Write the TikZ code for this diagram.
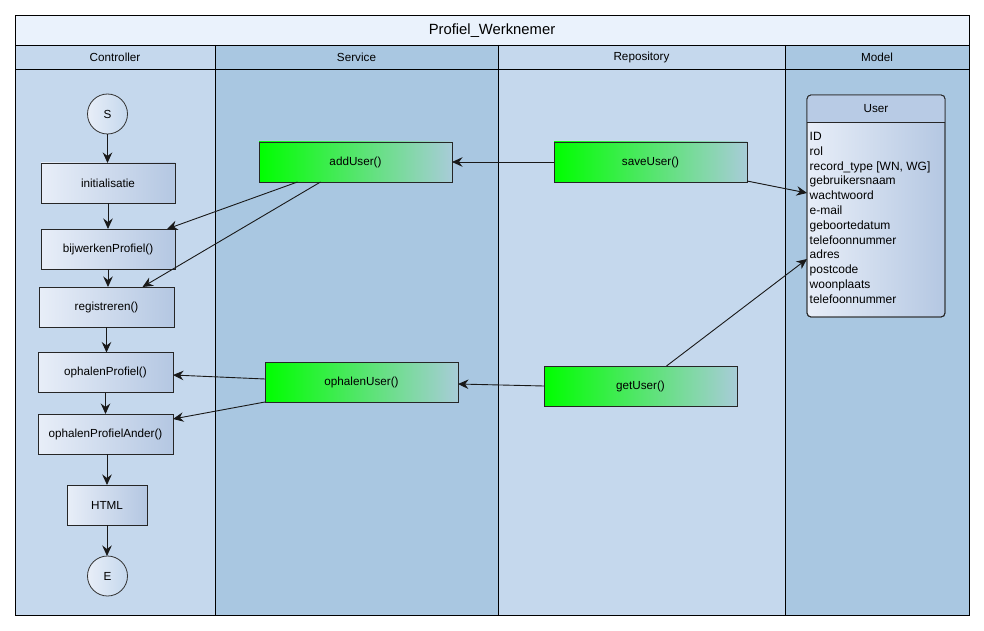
\documentclass[tikz,border=0pt]{standalone}
\usepackage{fontspec}
\setmainfont{Liberation Sans}
\usetikzlibrary{arrows.meta}

\definecolor{titlefill}{RGB}{234,242,252}
\definecolor{lanelight}{RGB}{197,216,237}
\definecolor{lanedark}{RGB}{169,199,225}
\definecolor{boxlight}{RGB}{232,238,248}
\definecolor{boxdark}{RGB}{180,199,226}
\definecolor{greenstart}{RGB}{0,255,0}
\definecolor{greenmid}{RGB}{80,230,115}
\definecolor{greenend}{RGB}{168,204,216}
\definecolor{userhead}{RGB}{184,203,229}

\tikzset{
  lbl/.style={font=\fontsize{11.7}{14}\selectfont},
  ctrlbox/.style={draw=black!85, line width=0.9pt, left color=boxlight, right color=boxdark,
    minimum width=134pt, minimum height=40pt, outer sep=0pt, lbl},
  greenbox/.style={draw=black!85, line width=0.9pt, left color=greenstart, middle color=greenmid,
    right color=greenend, minimum width=193pt, minimum height=40pt, outer sep=0pt, lbl},
  endpoint/.style={circle, draw=black!80, line width=0.8pt, left color=boxlight, right color=lanelight,
    minimum size=40pt, inner sep=0pt, outer sep=0pt, lbl},
  attr/.style={anchor=base west, inner sep=0pt, font=\fontsize{12}{14}\selectfont},
  conn/.style={draw=black!90, line width=0.9pt, -{Stealth[length=10.5pt,width=9.5pt,inset=3.5pt]}},
  lane/.style={draw=black, line width=0.9pt}
}

\begin{document}
\begin{tikzpicture}[x=1pt,y=-1pt]
\useasboundingbox (0,0) rectangle (984,631);
\fill[white] (0,0) rectangle (984,631);

% swimlane backgrounds
\fill[titlefill] (15,15) rectangle (969,45);
\fill[lanelight] (15,45) rectangle (215,615);
\fill[lanedark] (215,45) rectangle (498,615);
\fill[lanelight] (498,45) rectangle (785,615);
\fill[lanedark] (785,45) rectangle (969,615);

% swimlane borders
\draw[lane] (15,15) rectangle (969,615);
\draw[lane] (15,45) -- (969,45);
\draw[lane] (15,69) -- (969,69);
\draw[lane] (215,45) -- (215,615);
\draw[lane] (498,45) -- (498,615);
\draw[lane] (785,45) -- (785,615);

% titles
\node[font=\fontsize{14.8}{17}\selectfont] (title) at (492,30.5) {Profiel\_Werknemer};
\node[lbl] (hctrl) at (115,57.5) {Controller};
\node[lbl] (hsrv) at (356.5,57.5) {Service};
\node[lbl] (hrepo) at (641.5,57.5) {Repository};
\node[lbl] (hmodel) at (877,57.5) {Model};

% controller flow
\node[endpoint] (start) at (107.5,114) {S};
\node[ctrlbox] (init) at (108,183) {initialisatie};
\node[ctrlbox] (bij) at (108,249) {bijwerkenProfiel()};
\node[ctrlbox, minimum width=135pt] (reg) at (106.5,307) {registreren()};
\node[ctrlbox, minimum width=135pt] (oP) at (105.5,372.5) {ophalenProfiel()};
\node[ctrlbox, minimum width=135pt] (oPA) at (105.5,434) {ophalenProfielAnder()};
\node[ctrlbox, minimum width=80pt] (html) at (107,505) {HTML};
\node[endpoint] (end) at (107.5,576) {E};

% service and repository calls
\node[greenbox] (addUser) at (355.5,162) {addUser()};
\node[greenbox] (saveUser) at (650.5,162) {saveUser()};
\node[greenbox] (ophalenUser) at (361.5,382) {ophalenUser()};
\node[greenbox] (getUser) at (640.5,386) {getUser()};

% User class
\node[draw=black!85, line width=0.9pt, rounded corners=4pt, left color=boxlight, right color=boxdark,
      minimum width=138pt, minimum height=222pt, outer sep=0pt] (user) at (876,206) {};
\fill[userhead] ([yshift=-27pt]user.north west) [rounded corners=4pt] -- (user.north west)
  -- (user.north east) [sharp corners] -- ([yshift=-27pt]user.north east) -- cycle;
\draw[black!85, line width=0.9pt] ([yshift=-27pt]user.north west) -- ([yshift=-27pt]user.north east);
\draw[black!85, line width=0.9pt, rounded corners=4pt] (user.north west) rectangle (user.south east);
\node[lbl] (userhdr) at (876,108.5) {User};
\foreach \t [count=\i] in {ID, rol, {record\_type [WN, WG]}, gebruikersnaam, wachtwoord, e-mail,
    geboortedatum, telefoonnummer, adres, postcode, woonplaats, telefoonnummer}
  \node[attr] (attr\i) at (809.5,{140.5+(\i-1)*14.8}) {\t};

% controller sequence
\draw[conn] (start.south) -- (start.south |- init.north);
\draw[conn] (init.south) -- (init.south |- bij.north);
\draw[conn] (bij.south) -- (bij.south |- reg.north);
\draw[conn] (reg.south) -- (reg.south |- oP.north);
\draw[conn] (oP.south) -- (oP.south |- oPA.north);
\draw[conn] (html.north |- oPA.south) -- (html.north);
\draw[conn] (html.south) -- (html.south |- end.north);

% calls between layers
\draw[conn] (saveUser.west) -- (addUser.east);
\draw[conn] ([xshift=-58pt]addUser.south) -- ([xshift=-8pt]bij.north east);
\draw[conn] ([xshift=-35pt]addUser.south) -- ([xshift=36pt]reg.north);
\draw[conn] ([yshift=1pt]saveUser.south east) -- ([yshift=13pt]user.west);
\draw[conn] ([xshift=26pt]getUser.north) -- ([yshift=-53pt]user.west);
\draw[conn] (getUser.west) -- ([yshift=-2pt]ophalenUser.east);
\draw[conn] ([yshift=3pt]ophalenUser.west) -- ([yshift=-2.5pt]oP.east);
\draw[conn] (ophalenUser.south west) -- ([yshift=15pt]oPA.east);
\end{tikzpicture}
\end{document}
